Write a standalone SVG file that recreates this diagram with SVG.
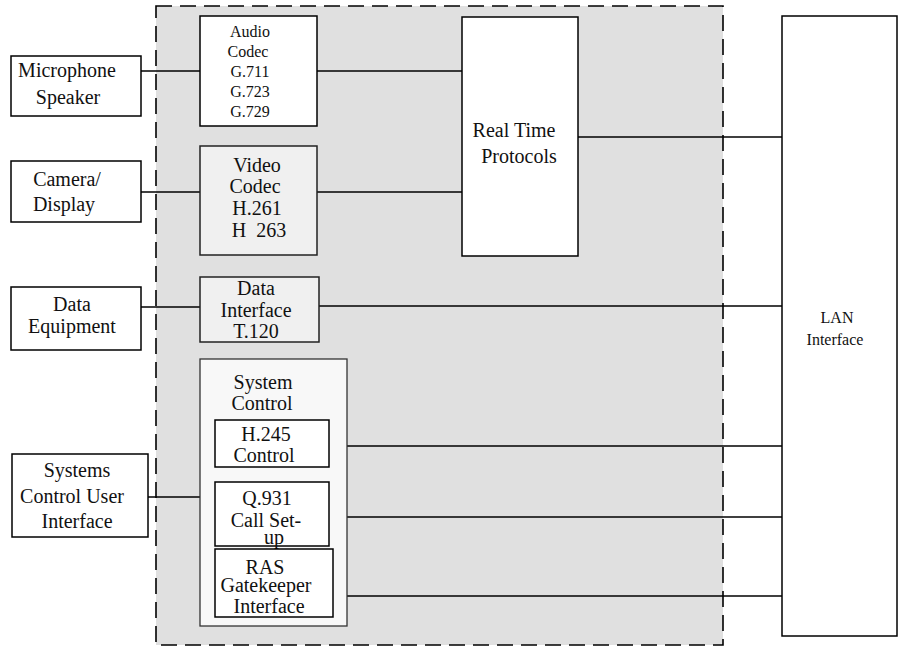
<svg xmlns="http://www.w3.org/2000/svg" width="898" height="647" viewBox="0 0 898 647" font-family="'Liberation Serif', 'Times New Roman', serif">
<style>
text{font-family:'Liberation Serif','Times New Roman',serif;font-size:20px;fill:#111;text-anchor:middle}
.s{font-size:16px}
.box{fill:#fff;stroke:#000;stroke-width:1.5}
.lt{fill:#f0f0f0;stroke:#222;stroke-width:1.5}
.sc{fill:#f8f8f8;stroke:#333;stroke-width:1.3}
.ln{stroke:#000;stroke-width:1.3;fill:none}
</style>
<rect id="terminal" x="156" y="6" width="567" height="639" fill="#e0e0e0" stroke="#000" stroke-width="1.6" stroke-dasharray="16 8"/>
<g id="connectors">
<line class="ln" x1="141" y1="71" x2="200" y2="71"/>
<line class="ln" x1="317" y1="71" x2="462" y2="71"/>
<line class="ln" x1="141" y1="192" x2="200" y2="192"/>
<line class="ln" x1="317" y1="192" x2="462" y2="192"/>
<line class="ln" x1="578" y1="137" x2="782" y2="137"/>
<line class="ln" x1="141" y1="307" x2="200" y2="307"/>
<line class="ln" x1="319" y1="306" x2="782" y2="306"/>
<line class="ln" x1="148" y1="497" x2="200" y2="497"/>
<line class="ln" x1="329" y1="446" x2="782" y2="446"/>
<line class="ln" x1="329" y1="517" x2="782" y2="517"/>
<line class="ln" x1="330" y1="596" x2="782" y2="596"/>
</g>
<g id="mic"><rect class="box" x="11" y="56" width="130" height="60"/><text x="67" y="77">Microphone</text><text x="68" y="104">Speaker</text></g>
<g id="camera"><rect class="box" x="11" y="161" width="130" height="61"/><text x="67" y="186">Camera/</text><text x="64" y="211">Display</text></g>
<g id="data-equipment"><rect class="box" x="11" y="287" width="130" height="63"/><text x="72" y="311">Data</text><text x="72" y="333">Equipment</text></g>
<g id="scui"><rect class="box" x="12" y="454" width="136" height="83"/><text x="77" y="477">Systems</text><text x="72" y="503">Control User</text><text x="77" y="528">Interface</text></g>
<g id="audio"><rect class="box" x="200" y="16" width="117" height="110"/><text class="s" x="250" y="37">Audio</text><text class="s" x="248" y="57">Codec</text><text class="s" x="250" y="77">G.711</text><text class="s" x="250" y="97">G.723</text><text class="s" x="250" y="117">G.729</text></g>
<g id="video"><rect class="lt" x="200" y="146" width="117" height="109"/><text x="257" y="172">Video</text><text x="255" y="193">Codec</text><text x="257" y="215">H.261</text><text x="259" y="237" xml:space="preserve" style="white-space:pre">H  263</text></g>
<g id="data-interface"><rect class="lt" x="200" y="277" width="119" height="65"/><text x="256" y="295">Data</text><text x="256" y="317">Interface</text><text x="256" y="338">T.120</text></g>
<g id="system-control"><rect class="sc" x="200" y="359" width="147" height="267"/><text x="263" y="389">System</text><text x="262" y="410">Control</text>
<g id="h245"><rect class="box" x="215" y="420" width="114" height="47"/><text x="266" y="441">H.245</text><text x="264" y="462">Control</text></g>
<g id="q931"><rect class="box" x="215" y="482" width="114" height="64"/><text x="267" y="505">Q.931</text><text x="266" y="527">Call Set-</text><text x="274" y="544">up</text></g>
<g id="ras"><rect class="box" x="215" y="549" width="118" height="68"/><text x="265" y="574">RAS</text><text x="266" y="592">Gatekeeper</text><text x="269" y="613">Interface</text></g>
</g>
<g id="rtp"><rect class="box" x="462" y="17" width="116" height="239"/><text x="514" y="137">Real Time</text><text x="519" y="163">Protocols</text></g>
<g id="lan"><rect class="box" x="782" y="16" width="115" height="620"/><text class="s" x="837" y="323">LAN</text><text class="s" x="835" y="345">Interface</text></g>
</svg>
